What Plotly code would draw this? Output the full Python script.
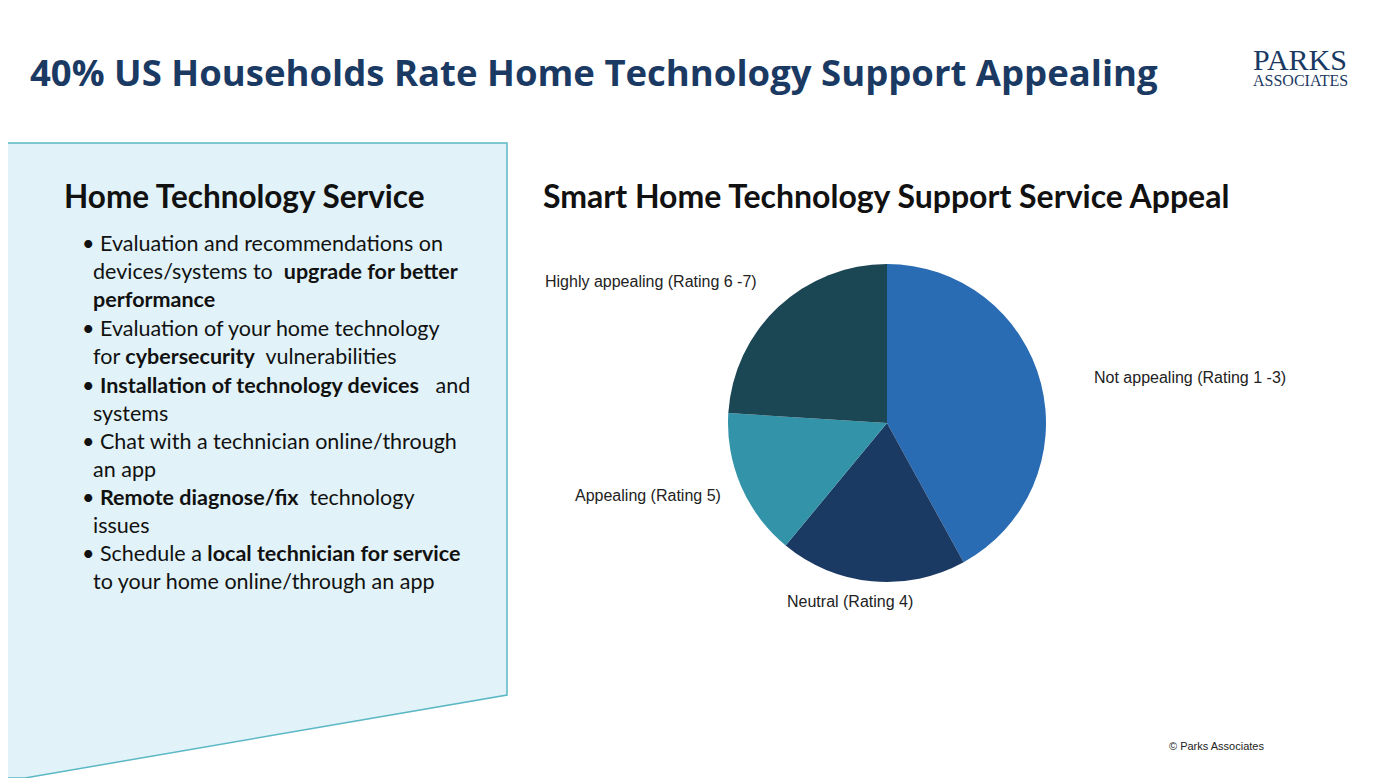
import plotly.graph_objects as go

W, H = 1393, 778
labels = ["Not appealing (Rating 1 -3)", "Neutral (Rating 4)", "Appealing (Rating 5)", "Highly appealing (Rating 6 -7)"]
values = [42, 19, 15, 24]
colors = ["#2a6cb3", "#1b3a63", "#3393a8", "#1b4654"]
label_pos = [(1092, 377, "left"), (850, 601, "center"), (723, 495, "right"), (759, 281, "right")]

bullets = [
    "• Evaluation and recommendations on<br>  devices/systems to  <b>upgrade for better</b><br>  <b>performance</b>",
    "• Evaluation of your home technology<br>  for <b>cybersecurity</b>  vulnerabilities",
    "• <b>Installation of technology devices</b>   and<br>  systems",
    "• Chat with a technician online/through<br>  an app",
    "• <b>Remote diagnose/fix</b>  technology<br>  issues",
    "• Schedule a <b>local technician for service</b><br>  to your home online/through an app",
]
bullet_y = [242, 327, 384, 440, 496, 552]

OFF = 8
def px(x): return (x - OFF) / W
def py(y): return 1 - (y - OFF) / H

fig = go.Figure(go.Pie(
    labels=labels, values=values, sort=False, direction="clockwise", rotation=0,
    marker=dict(colors=colors), textinfo="none", hoverinfo="label+percent",
    showlegend=False,
    domain=dict(x=[px(728), px(1046)], y=[py(582), py(264)]),
))

fig.add_shape(type="path", xref="paper", yref="paper",
              path=f"M {px(0)} {py(143)} L {px(507)} {py(143)} L {px(507)} {py(695)} L {px(25)} {py(778)} L {px(0)} {py(778)} Z",
              fillcolor="#e1f3f8", line=dict(color="#5bb8c4", width=1.5))

ann = []
ann.append(dict(x=px(28), y=py(72), text="<b>40% US Households Rate Home Technology Support Appealing</b>",
                xanchor="left", yanchor="middle", font=dict(size=36.5, color="#1b3a63", family="Open Sans")))
ann.append(dict(x=px(1300), y=py(60), text="PARKS", xanchor="center", yanchor="middle",
                font=dict(size=30, color="#1b3a63", family="Liberation Serif")))
ann.append(dict(x=px(1300), y=py(81), text="ASSOCIATES", xanchor="center", yanchor="middle",
                font=dict(size=16, color="#1b3a63", family="Liberation Serif")))
ann.append(dict(x=px(62), y=py(196), text="<b>Home Technology Service</b>", xanchor="left", yanchor="middle",
                font=dict(size=31.5, color="#111111", family="Lato")))
ann.append(dict(x=px(541), y=py(196), text="<b>Smart Home Technology Support Service Appeal</b>", xanchor="left", yanchor="middle",
                font=dict(size=32, color="#111111", family="Lato")))
for t, y in zip(bullets, bullet_y):
    ann.append(dict(x=px(80), y=py(y - 14), text=t, xanchor="left", yanchor="top", align="left",
                    font=dict(size=21.5, color="#111111", family="Lato")))
for lab, (x, y, a) in zip(labels, label_pos):
    ann.append(dict(x=px(x), y=py(y), text=lab, xanchor=a, yanchor="middle",
                    font=dict(size=16, color="#222222", family="Liberation Sans")))
ann.append(dict(x=px(1266), y=py(746), text="© Parks Associates", xanchor="right", yanchor="middle",
                font=dict(size=11, color="#222222", family="Liberation Sans")))
for a in ann:
    a.update(xref="paper", yref="paper", showarrow=False)

fig.update_layout(width=W, height=H, margin=dict(l=0, r=0, t=0, b=0),
                  paper_bgcolor="white", plot_bgcolor="white", annotations=ann)
fig.write_html("out.html")
